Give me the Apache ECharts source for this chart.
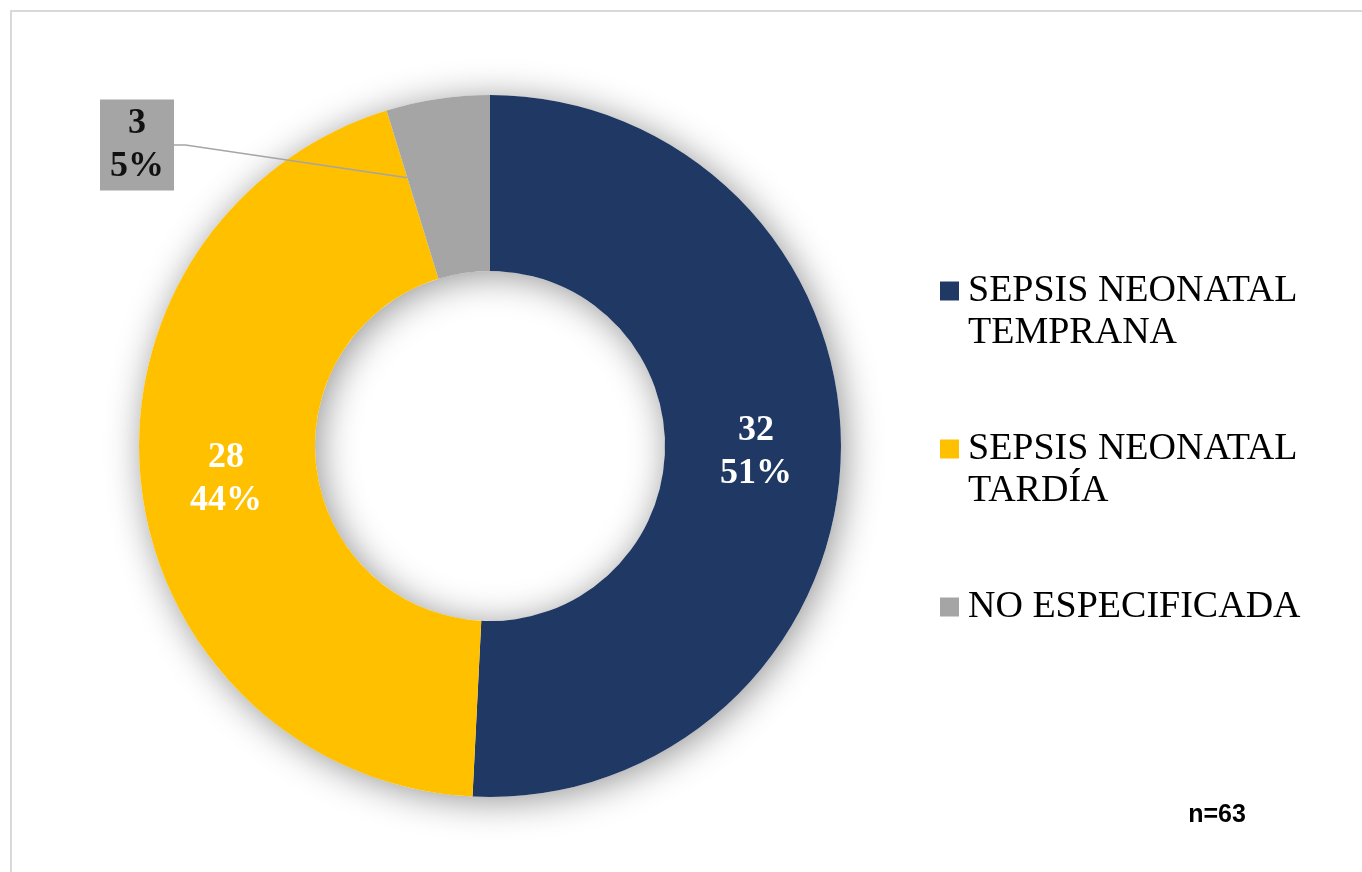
<!DOCTYPE html>
<html>
<head>
<meta charset="utf-8">
<script src="https://cdn.jsdelivr.net/npm/echarts@6/dist/echarts.min.js"></script>
<style>
  html, body { margin: 0; padding: 0; background: #ffffff; }
  #chart { width: 1362px; height: 872px; }
</style>
</head>
<body>
<div id="chart"></div>
<script>
// Tipos de sepsis neonatal (n = 63)
const categories = ['SEPSIS NEONATAL TEMPRANA', 'SEPSIS NEONATAL TARDÍA', 'NO ESPECIFICADA'];
const counts = [32, 28, 3];
const colors = ['#203864', '#FFC000', '#A5A5A5'];
const sampleNote = 'n=63';

const serif = '"Liberation Serif", "Times New Roman", serif';
const total = counts.reduce((a, b) => a + b, 0);
const pieCenter = [490, 446];
const pieRadius = [175, 351];
const boxLabelPos = [137, 145];
const boxHalfWidth = 36.5;

const pieData = categories.map((name, i) => {
  const item = { name: name, value: counts[i], itemStyle: { color: colors[i] } };
  if (i === 2) {
    // small slice: label sits outside in a grey box
    item.label = {
      position: 'outside',
      color: '#111111',
      backgroundColor: colors[i],
      padding: [2, 10, 3, 10]
    };
    item.labelLine = { show: false };
  }
  return item;
});

// leader line of the small slice: starts on its leading edge, inside the ring
function sliceEdgePoint(idx) {
  const before = counts.slice(0, idx).reduce((a, b) => a + b, 0);
  const ang = Math.PI / 2 - (before / total) * Math.PI * 2; // clockwise from top
  const r = pieRadius[0] + (pieRadius[1] - pieRadius[0]) * 0.6;
  return [pieCenter[0] + r * Math.cos(ang), pieCenter[1] - r * Math.sin(ang)];
}

const boxRight = boxLabelPos[0] + boxHalfWidth;

const chart = echarts.init(document.getElementById('chart'), null, { renderer: 'canvas' });

chart.setOption({
  backgroundColor: '#ffffff',
  animation: false,
  graphic: [
    {
      type: 'rect',
      z: -10,
      silent: true,
      shape: { x: 11, y: 11, width: 1400, height: 900 },
      style: { fill: 'none', stroke: '#D9D9D9', lineWidth: 2 }
    },
    {
      // leader line drawn above the ring, from the small slice to its boxed label
      type: 'polyline',
      z: 20,
      silent: true,
      shape: { points: [sliceEdgePoint(2), [boxRight + 12, boxLabelPos[1]], [boxRight, boxLabelPos[1]]] },
      style: { stroke: '#A5A5A5', lineWidth: 1.5, fill: null }
    },
    {
      type: 'text',
      z: 20,
      x: 1217,
      y: 815,
      style: {
        text: sampleNote,
        font: 'bold 25px "Liberation Sans", Arial, sans-serif',
        fill: '#000000',
        align: 'center',
        verticalAlign: 'middle'
      }
    }
  ],
  legend: {
    orient: 'vertical',
    left: 940,
    top: 228,
    padding: 0,
    itemGap: 32,
    itemWidth: 19,
    itemHeight: 19,
    icon: 'rect',
    selectedMode: false,
    data: categories,
    // blank lines keep the swatch level with the first line of each entry
    formatter: function (name) {
      return categories.indexOf(name) === 2 ? '\n' + name + '\n ' : '\n' + name;
    },
    textStyle: {
      fontFamily: serif,
      fontSize: 38,
      lineHeight: 42,
      color: '#000000',
      width: 350,
      overflow: 'break',
      padding: [0, 0, 0, 4]
    }
  },
  series: [
    {
      // soft drop shadow under the whole ring
      type: 'pie',
      name: 'sombra',
      silent: true,
      center: pieCenter,
      radius: pieRadius,
      z: 1,
      label: { show: false },
      labelLine: { show: false },
      itemStyle: {
        color: '#ffffff',
        shadowBlur: 36,
        shadowColor: 'rgba(0,0,0,0.42)',
        shadowOffsetX: 4,
        shadowOffsetY: 4
      },
      data: [{ name: '', value: total }]
    },
    {
      type: 'pie',
      name: 'Sepsis neonatal',
      center: pieCenter,
      radius: pieRadius,
      startAngle: 90,
      clockwise: true,
      percentPrecision: 0,
      avoidLabelOverlap: false,
      z: 2,
      label: {
        show: true,
        position: 'inside',
        formatter: '{c}\n{d}%',
        fontFamily: serif,
        fontWeight: 'bold',
        fontSize: 36,
        lineHeight: 43,
        color: '#ffffff',
        align: 'center'
      },
      labelLine: { show: false },
      labelLayout: function (params) {
        if (params.dataIndex === 2) {
          return { x: boxLabelPos[0], y: boxLabelPos[1], align: 'center', verticalAlign: 'middle' };
        }
        return {};
      },
      emphasis: { disabled: true },
      data: pieData
    }
  ]
});
</script>
</body>
</html>
